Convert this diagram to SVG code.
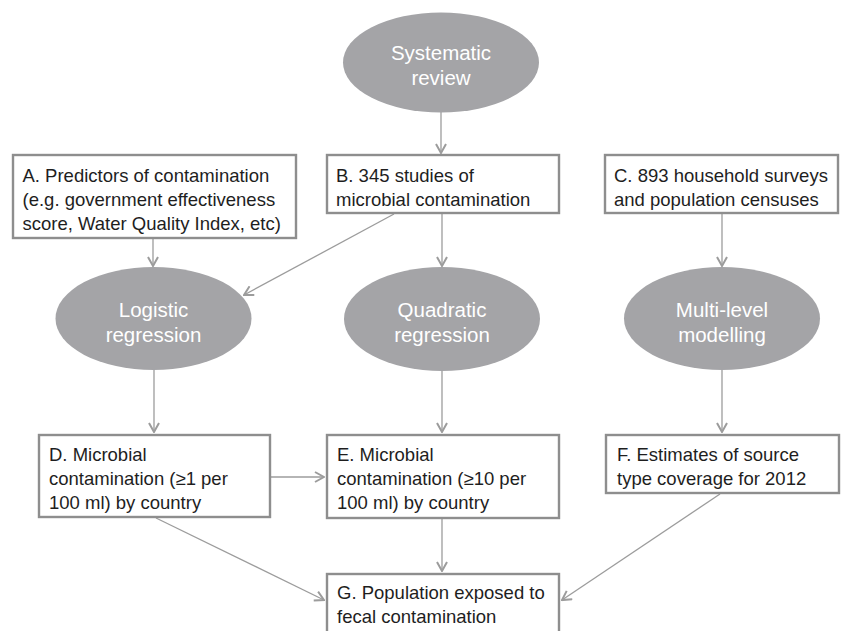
<svg xmlns="http://www.w3.org/2000/svg" width="841" height="631" viewBox="0 0 841 631">
<defs>
<style>
.box{fill:#fff;stroke:#8e8e8e;stroke-width:2.4}
.ell{fill:#a4a4a7}
.bt{font-family:"Liberation Sans",Arial,sans-serif;font-size:18.5px;fill:#1e1e1e}
.et{font-family:"Liberation Sans",Arial,sans-serif;font-size:20.5px;fill:#fff;text-anchor:middle}
.c{fill:none;stroke:#9c9c9c;stroke-width:1.3}
</style>
<marker id="ah" viewBox="0 0 12 12" refX="11" refY="6" markerWidth="12" markerHeight="12" markerUnits="userSpaceOnUse" orient="auto">
<path d="M2,1 L11,6 L2,11" fill="none" stroke="#9c9c9c" stroke-width="2"/>
</marker>
</defs>
<rect width="841" height="631" fill="#fff"/>
<g id="connectors">
<line class="c" x1="441" y1="112" x2="441" y2="153" marker-end="url(#ah)"/>
<line class="c" x1="153" y1="239" x2="153" y2="266" marker-end="url(#ah)"/>
<line class="c" x1="394" y1="214" x2="244" y2="295" marker-end="url(#ah)"/>
<line class="c" x1="442" y1="214" x2="442" y2="266" marker-end="url(#ah)"/>
<line class="c" x1="722" y1="214" x2="722" y2="266" marker-end="url(#ah)"/>
<line class="c" x1="154" y1="370" x2="154" y2="432" marker-end="url(#ah)"/>
<line class="c" x1="442" y1="371" x2="442" y2="432" marker-end="url(#ah)"/>
<line class="c" x1="722" y1="370" x2="722" y2="432" marker-end="url(#ah)"/>
<line class="c" x1="271" y1="477" x2="324" y2="477" marker-end="url(#ah)"/>
<line class="c" x1="442" y1="519" x2="442" y2="571" marker-end="url(#ah)"/>
<line class="c" x1="156" y1="518" x2="324" y2="600" marker-end="url(#ah)"/>
<line class="c" x1="720" y1="494" x2="562" y2="600" marker-end="url(#ah)"/>
</g>
<g id="sysreview">
<ellipse class="ell" cx="441" cy="62.5" rx="98" ry="50"/>
<text class="et" x="441" y="60">Systematic</text>
<text class="et" x="441" y="85">review</text>
</g>
<g id="A">
<rect class="box" x="13" y="155" width="283" height="83"/>
<text class="bt" x="22.5" y="182">A. Predictors of contamination</text>
<text class="bt" x="22.5" y="206">(e.g. government effectiveness</text>
<text class="bt" x="22.5" y="230">score, Water Quality Index, etc)</text>
</g>
<g id="B">
<rect class="box" x="327" y="155" width="232" height="58"/>
<text class="bt" x="336" y="182">B. 345 studies of</text>
<text class="bt" x="336" y="206">microbial contamination</text>
</g>
<g id="C">
<rect class="box" x="605" y="155" width="233" height="58"/>
<text class="bt" x="614" y="182">C. 893 household surveys</text>
<text class="bt" x="614" y="206">and population censuses</text>
</g>
<g id="logistic">
<ellipse class="ell" cx="153.5" cy="318.5" rx="98" ry="51.5"/>
<text class="et" x="153.5" y="317">Logistic</text>
<text class="et" x="153.5" y="342">regression</text>
</g>
<g id="quadratic">
<ellipse class="ell" cx="442" cy="319" rx="98" ry="52"/>
<text class="et" x="442" y="317">Quadratic</text>
<text class="et" x="442" y="342">regression</text>
</g>
<g id="multilevel">
<ellipse class="ell" cx="722" cy="318.5" rx="98" ry="51.5"/>
<text class="et" x="722" y="317">Multi-level</text>
<text class="et" x="722" y="342">modelling</text>
</g>
<g id="D">
<rect class="box" x="39" y="435" width="231" height="82"/>
<text class="bt" x="49" y="461">D. Microbial</text>
<text class="bt" x="49" y="485">contamination (≥1 per</text>
<text class="bt" x="49" y="509">100 ml) by country</text>
</g>
<g id="E">
<rect class="box" x="327" y="435" width="232" height="83"/>
<text class="bt" x="337" y="461">E. Microbial</text>
<text class="bt" x="337" y="485">contamination (≥10 per</text>
<text class="bt" x="337" y="509">100 ml) by country</text>
</g>
<g id="F">
<rect class="box" x="606" y="435" width="233" height="58"/>
<text class="bt" x="617" y="461">F. Estimates of source</text>
<text class="bt" x="617" y="485">type coverage for 2012</text>
</g>
<g id="G">
<rect class="box" x="327" y="574" width="232" height="80"/>
<text class="bt" x="337" y="599">G. Population exposed to</text>
<text class="bt" x="337" y="623">fecal contamination</text>
</g>
</svg>
